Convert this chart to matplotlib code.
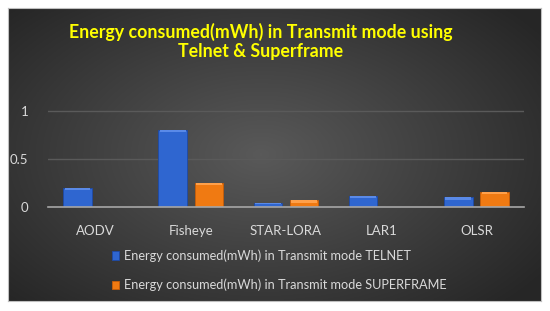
import matplotlib.pyplot as plt
import numpy as np

# ---- data ----
protocols = ["AODV", "Fisheye", "STAR-LORA", "LAR1", "OLSR"]
telnet = [0.20, 0.80, 0.045, 0.115, 0.10]
superframe = [0.005, 0.25, 0.07, 0.005, 0.16]
series_names = ["Energy consumed(mWh) in Transmit mode TELNET",
                "Energy consumed(mWh) in Transmit mode SUPERFRAME"]
yticks = [0, 0.5, 1]
yticklabels = ["0", "0.5", "1"]

W, H = 550, 311
plt.rcParams["font.family"] = ["Lato", "DejaVu Sans"]
fig = plt.figure(figsize=(W / 100, H / 100), dpi=100)
fig.patch.set_facecolor("white")

# ---- dark radial gradient background ----
bg = fig.add_axes([8 / W, 10 / H, 533 / W, 293 / H])
gx = np.linspace(-1, 1, 400)
gy = np.linspace(-1, 1, 220)
GX, GY = np.meshgrid(gx, gy)
r = np.sqrt((GX + 0.05) ** 2 + (GY * 0.9) ** 2)
shade = 0.35 - 0.2 * np.clip(r / 1.3, 0, 1)
bg.imshow(np.dstack([shade] * 3), aspect="auto", extent=[0, 1, 0, 1])
bg.set_xticks([])
bg.set_yticks([])
for s in bg.spines.values():
    s.set_edgecolor("#bfbfbf")
    s.set_linewidth(0.8)

# ---- main axes ----
ax = fig.add_axes([48 / W, 104 / H, 476 / W, 101 / H])
ax.patch.set_alpha(0)
x = np.arange(len(protocols))
w = 0.30
off = 0.19
b1 = ax.bar(x - off, telnet, w, color="#2f66d0", edgecolor="#1d4aa8", linewidth=0.6, zorder=3)
b2 = ax.bar(x + off, superframe, w, color="#f07a12", edgecolor="#c85e08", linewidth=0.6, zorder=3)
# lighter bevel strip on top of each bar
for bars, c in ((b1, "#5a8ae8"), (b2, "#ffa04a")):
    for b in bars:
        h = b.get_height()
        t = min(0.025, h * 0.4)
        ax.bar(b.get_x() + b.get_width() / 2, t, b.get_width() * 0.9,
               bottom=h - t, color=c, linewidth=0, zorder=4)

ax.set_xlim(-0.5, len(protocols) - 0.5)
ax.set_ylim(0, 1.05)
ax.set_yticks(yticks)
ax.set_yticklabels(yticklabels)
ax.set_xticks(x)
ax.set_xticklabels(protocols)
ax.tick_params(colors="#d9d9d9", labelsize=9.5, length=0)
ax.tick_params(axis="x", pad=13)
ax.tick_params(axis="y", pad=14)
ax.grid(axis="y", color="#5a5a5a", linewidth=1.0, zorder=0)
for s in ("top", "right", "left"):
    ax.spines[s].set_visible(False)
ax.spines["bottom"].set_color("#a6a6a6")
ax.spines["bottom"].set_linewidth(1.2)
ax.spines["bottom"].set_zorder(5)

# ---- title ----
fig.text(261 / W, 1 - 32 / H, "Energy consumed(mWh) in Transmit mode using",
         color="#ffff00", fontsize=12.8, fontweight="bold", ha="center", va="center")
fig.text(261 / W, 1 - 52 / H, "Telnet & Superframe",
         color="#ffff00", fontsize=12.8, fontweight="bold", ha="center", va="center")

# ---- legend ----
leg = fig.legend([b1, b2], series_names, loc="upper left",
                 bbox_to_anchor=(100 / W, 1 - 238 / H), frameon=False,
                 fontsize=9.2, labelcolor="#d9d9d9", handlelength=0.6,
                 handleheight=0.6, handletextpad=0.4, labelspacing=1.3)

fig.savefig("out.png", dpi=100)
